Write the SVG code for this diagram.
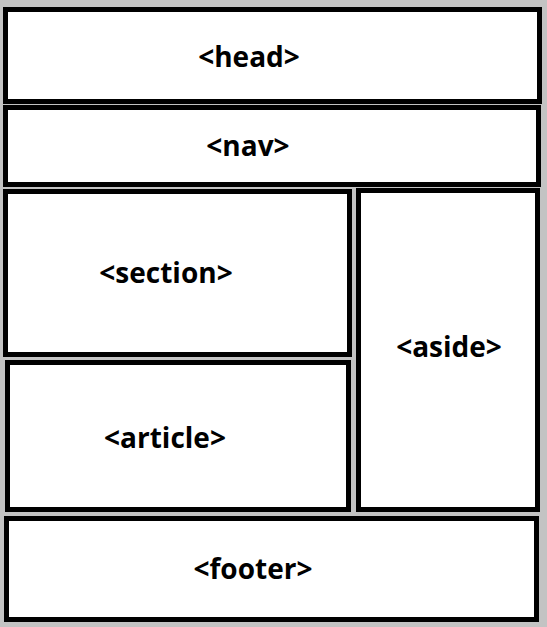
<svg xmlns="http://www.w3.org/2000/svg" width="547" height="627" viewBox="0 0 547 627">
<style>
.box{fill:#fff;stroke:#000;stroke-width:5}
.lbl{font-family:"Open Sans","DejaVu Sans",sans-serif;font-weight:bold;font-size:28px;text-anchor:middle;fill:#000}
</style>
<rect x="0" y="0" width="547" height="627" fill="#c3c3c3"/>
<g id="head"><rect class="box" x="5.5" y="9.5" width="534" height="92"/><text class="lbl" x="249" y="67">&lt;head&gt;</text></g>
<g id="nav"><rect class="box" x="5.5" y="107.5" width="533" height="77"/><text class="lbl" x="248" y="156">&lt;nav&gt;</text></g>
<g id="section"><rect class="box" x="5.5" y="191.5" width="344" height="163"/><text class="lbl" x="166" y="283">&lt;section&gt;</text></g>
<g id="aside"><rect class="box" x="358.5" y="190.5" width="179" height="319"/><text class="lbl" x="449" y="357">&lt;aside&gt;</text></g>
<g id="article"><rect class="box" x="7.5" y="362.5" width="341" height="147"/><text class="lbl" x="165" y="448">&lt;article&gt;</text></g>
<g id="footer"><rect class="box" x="6.5" y="518.5" width="530" height="101"/><text class="lbl" x="253" y="579">&lt;footer&gt;</text></g>
<g id="connectors"/>
</svg>
